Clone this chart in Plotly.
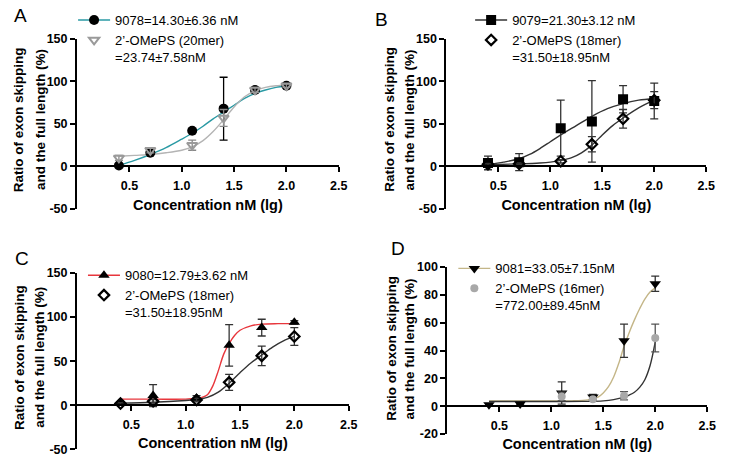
import plotly.graph_objects as go

W, H = 730, 472

# ---------------- data ----------------
x_conc = [0.4, 0.7, 1.1, 1.4, 1.7, 2.0]

# Panel A
a_9078 = [1, 16, 42, 68, 90, 95]
a_9078_err = [0, 0, 0, 37, 3, 2]
a_20mer = [10, 19, 25, 57, 90, 95]
a_20mer_err = [3, 3, 6, 10, 3, 2]
a_fit1_x = [0.4, 0.55, 0.7, 0.85, 1.0, 1.1, 1.2, 1.3, 1.4, 1.5, 1.6, 1.7, 1.8, 1.9, 2.0]
a_fit1_y = [1, 7, 14, 22, 32, 39, 47, 56, 64, 72, 80, 86, 90, 93, 95]
a_fit2_x = [0.4, 0.55, 0.7, 0.85, 1.0, 1.1, 1.2, 1.3, 1.4, 1.5, 1.6, 1.7, 1.8, 1.9, 2.0]
a_fit2_y = [12, 13, 14, 16, 19, 23, 30, 41, 55, 70, 82, 89, 93, 95, 96]

# Panel B
b_9079 = [4, 5, 45, 53, 79, 77]
b_9079_err = [8, 10, 33, 48, 16, 21]
b_18mer = [2.5, 3, 6, 26, 56, 78]
b_18mer_err = [1, 1, 2, 9, 11, 10]
b_fit1_x = [0.4, 0.55, 0.7, 0.8, 0.9, 1.0, 1.1, 1.25, 1.4, 1.55, 1.7, 1.85, 2.0]
b_fit1_y = [2, 5, 9, 14, 21, 29, 37, 48, 59, 68, 74, 78, 80]
b_fit2_x = [0.4, 0.7, 0.9, 1.0, 1.1, 1.2, 1.3, 1.4, 1.5, 1.6, 1.7, 1.85, 2.0]
b_fit2_y = [2, 3, 4, 5, 7, 10, 16, 25, 37, 48, 57, 69, 78]

# Panel C
c_9080 = [2, 11, 8, 68, 88, 94]
c_9080_err = [1, 12.5, 3, 23.5, 9.5, 2]
c_18mer = [2, 4.5, 6, 26, 56, 78]
c_18mer_err = [1, 2, 2, 9, 11, 10]
c_fit1_x = [0.4, 0.7, 1.0, 1.1, 1.15, 1.2, 1.25, 1.3, 1.35, 1.4, 1.45, 1.5, 1.6, 1.7, 1.85, 2.0]
c_fit1_y = [7, 7, 7, 8, 9, 12, 22, 39, 58, 70, 79, 85, 90, 92, 92.5, 92.5]
c_fit2_x = [0.4, 0.7, 1.0, 1.1, 1.2, 1.3, 1.4, 1.5, 1.6, 1.7, 1.8, 1.9, 2.0]
c_fit2_y = [2.5, 3.5, 5.5, 6.5, 9, 15, 25, 37, 48, 57, 66, 73, 78]

# Panel D
d_9081 = [1, 1.5, 9.5, 6.5, 47, 88]
d_9081_err = [0.5, 0.5, 8, 2, 12, 5.5]
d_16mer_x = [1.1, 1.4, 1.7, 2.0]
d_16mer = [7, 5, 7.5, 49]
d_16mer_err = [3, 1, 3, 10]
d_fit1_x = [0.4, 0.7, 1.0, 1.2, 1.35, 1.45, 1.5, 1.55, 1.6, 1.65, 1.7, 1.75, 1.8, 1.85, 1.9, 1.95, 2.0]
d_fit1_y = [3.7, 3.7, 3.7, 3.8, 4.5, 6.5, 9.5, 14, 21, 31, 43, 53, 62, 70, 77, 82, 85]
d_fit2_x = [0.4, 0.7, 1.0, 1.3, 1.5, 1.6, 1.7, 1.75, 1.8, 1.85, 1.9, 1.95, 2.0]
d_fit2_y = [3.3, 3.3, 3.3, 3.4, 3.8, 4.7, 6.5, 8, 10, 13.5, 19, 29, 46]

legend_names = {
    "A": ["9078=14.30±6.36 nM", "2’-OMePS (20mer)<br>=23.74±7.58nM"],
    "B": ["9079=21.30±3.12 nM", "2’-OMePS (18mer)<br>=31.50±18.95nM"],
    "C": ["9080=12.79±3.62 nM", "2’-OMePS (18mer)<br>=31.50±18.95nM"],
    "D": ["9081=33.05±7.15nM", "2’-OMePS (16mer)<br>=772.00±89.45nM"],
}
x_ticks = [0.5, 1.0, 1.5, 2.0, 2.5]
y_ticks_abc = [-50, 0, 50, 100, 150]
y_ticks_d = [-20, 0, 20, 40, 60, 80, 100]
y_title = ["Ratio of exon skipping", "and the full length (%)"]
x_title = "Concentration nM (lg)"

# ---------------- layout geometry (pixels) ----------------
FONT = "Arial, 'Liberation Sans', sans-serif"
panels = {
    # name: (x0, x1, ytop, ybottom, yrange, yticks)
    "A": (78, 343, 33, 208, [-50, 150], y_ticks_abc),
    "B": (452, 715, 33, 208, [-50, 150], y_ticks_abc),
    "C": (78, 353, 274, 456, [-50, 150], y_ticks_abc),
    "D": (453, 716, 268, 440, [-20, 100], y_ticks_d),
}

fig = go.Figure()
layout = dict(width=W, height=H, margin=dict(l=0, r=0, t=0, b=0),
              paper_bgcolor="white", plot_bgcolor="white", showlegend=True,
              font=dict(family=FONT, color="black"))
annotations = []

def add_panel(idx, name, series, legpos):
    x0, x1, yt, yb, yr, yticks = panels[name]
    sfx = "" if idx == 1 else str(idx)
    xa, ya = "x" + sfx, "y" + sfx
    leg = "legend" if idx == 1 else "legend" + str(idx)
    ydom = [1 - yb / H, 1 - yt / H]
    pos0 = ydom[0] + (0 - yr[0]) / (yr[1] - yr[0]) * (ydom[1] - ydom[0])
    layout["xaxis" + sfx] = dict(
        domain=[x0 / W, x1 / W], range=[0, 2.5], anchor="free", position=pos0,
        showline=True, linecolor="black", linewidth=2, ticks="outside", ticklen=5,
        tickwidth=2, tickcolor="black", tickvals=x_ticks, tickformat=".1f",
        showgrid=False, zeroline=False, ticklabelstandoff=3,
        tickfont=dict(size=12.5, family=FONT, weight="bold"),
        title=dict(text=x_title, standoff=6, font=dict(size=14.5, family=FONT, weight="bold")))
    layout["yaxis" + sfx] = dict(
        domain=ydom, range=yr, anchor=xa, tickvals=yticks, ticktext=[str(v) for v in yticks],
        showline=True, linecolor="black", linewidth=2, ticks="outside", ticklen=5,
        tickwidth=2, tickcolor="black", showgrid=False, zeroline=False,
        tickfont=dict(size=12.5, family=FONT, weight="bold"))
    layout[leg] = dict(x=legpos[0] / W, y=1 - legpos[1] / H, xanchor="left", yanchor="top",
                       bgcolor="rgba(0,0,0,0)", font=dict(size=13, family=FONT),
                       tracegroupgap=10, valign="top", traceorder="normal", itemwidth=32)
    for s in series:
        fig.add_trace(go.Scatter(x=s["fx"], y=s["fy"], mode="lines", xaxis=xa, yaxis=ya,
                                 line=dict(color=s["lc"], width=1.4, shape="spline", smoothing=0.9),
                                 showlegend=False, hoverinfo="skip"))
    for i, s in enumerate(series):
        fig.add_trace(go.Scatter(
            x=s["x"], y=s["y"], mode="markers", xaxis=xa, yaxis=ya,
            marker=dict(symbol=s["sym"], size=s["ms"], color=s["mc"],
                        line=dict(color=s["mc"], width=s.get("mlw", 0))),
            error_y=dict(type="data", array=s["err"], color=s["ec"], thickness=1.3, width=4),
            name=s["name"], legend=leg, legendgroup=name + str(i),
            showlegend=(i == 1)))
        if i == 0:
            # legend entry showing line + marker, as in the original key
            fig.add_trace(go.Scatter(
                x=[None], y=[None], mode="lines+markers", xaxis=xa, yaxis=ya,
                marker=dict(symbol=s["sym"], size=s["ms"], color=s["mc"]),
                line=dict(color=s["lc"], width=1.4), name=s["name"], legend=leg,
                legendgroup=name + "0", showlegend=True))

add_panel(1, "A", [
    dict(x=x_conc, y=a_9078, err=a_9078_err, fx=a_fit1_x, fy=a_fit1_y, lc="#2a9aa4",
         sym="circle", ms=10, mc="black", ec="black", name=legend_names["A"][0]),
    dict(x=x_conc, y=a_20mer, err=a_20mer_err, fx=a_fit2_x, fy=a_fit2_y, lc="#b4b4b4",
         sym="triangle-down-open", ms=9, mc="#9a9a9a", mlw=2, ec="#888888", name=legend_names["A"][1]),
], (74, -2))

add_panel(2, "B", [
    dict(x=x_conc, y=b_9079, err=b_9079_err, fx=b_fit1_x, fy=b_fit1_y, lc="#333333",
         sym="square", ms=10, mc="black", ec="#333333", name=legend_names["B"][0]),
    dict(x=x_conc, y=b_18mer, err=b_18mer_err, fx=b_fit2_x, fy=b_fit2_y, lc="#333333",
         sym="diamond-open", ms=8, mc="black", mlw=2.2, ec="#333333", name=legend_names["B"][1]),
], (476, -2))

add_panel(3, "C", [
    dict(x=x_conc, y=c_9080, err=c_9080_err, fx=c_fit1_x, fy=c_fit1_y, lc="#e8363c",
         sym="triangle-up", ms=10, mc="black", ec="#333333", name=legend_names["C"][0]),
    dict(x=x_conc, y=c_18mer, err=c_18mer_err, fx=c_fit2_x, fy=c_fit2_y, lc="#333333",
         sym="diamond-open", ms=8, mc="black", mlw=2.2, ec="#333333", name=legend_names["C"][1]),
], (84, 261))

add_panel(4, "D", [
    dict(x=x_conc, y=d_9081, err=d_9081_err, fx=d_fit1_x, fy=d_fit1_y, lc="#c4b688",
         sym="triangle-down", ms=10, mc="black", ec="#333333", name=legend_names["D"][0]),
    dict(x=d_16mer_x, y=d_16mer, err=d_16mer_err, fx=d_fit2_x, fy=d_fit2_y, lc="#333333",
         sym="circle", ms=8, mc="#a8a8a8", ec="#555555", name=legend_names["D"][1]),
], (459, 254))

# panel letters
for letter, (lx, ly) in {"A": (21, 9), "B": (386, 13), "C": (22, 259), "D": (403, 249)}.items():
    annotations.append(dict(text=letter, x=lx / W, y=1 - ly / H, xref="paper", yref="paper",
                            showarrow=False, xanchor="center", yanchor="middle",
                            font=dict(size=19, family=FONT)))
# y titles (two lines each)
for (l1, l2, yc) in [(19, 41, 116), (394, 415, 116), (20, 40, 361), (396, 415, 352)]:
    for xx, txt in [(l1, y_title[0]), (l2, y_title[1])]:
        annotations.append(dict(text=txt, x=xx / W, y=1 - yc / H, xref="paper", yref="paper",
                                showarrow=False, textangle=-90, xanchor="center", yanchor="middle",
                                font=dict(size=13.5, family=FONT, weight="bold")))
layout["annotations"] = annotations
fig.update_layout(**layout)
fig.write_html("out.html", config={"displayModeBar": False},
               post_script="document.body.style.margin='0px';document.body.style.overflow='hidden';")
